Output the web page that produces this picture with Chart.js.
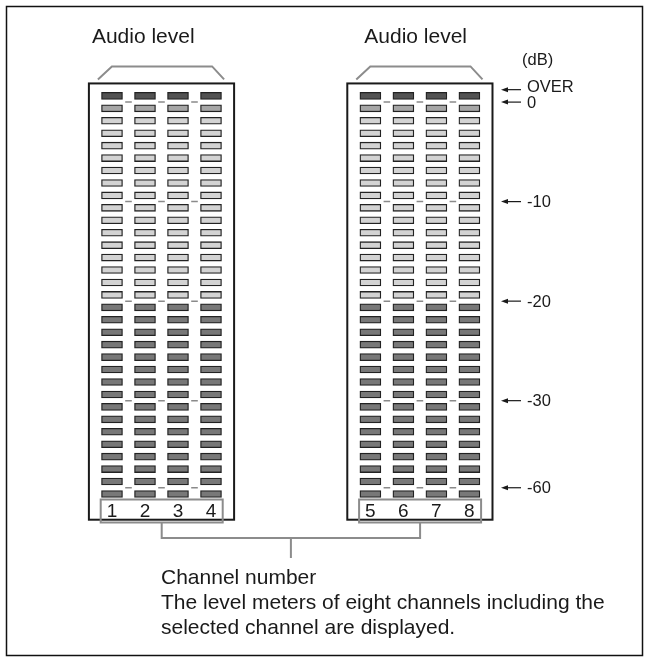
<!DOCTYPE html>
<html>
<head>
<meta charset="utf-8">
<script src="https://cdn.jsdelivr.net/npm/chart.js@4/dist/chart.umd.min.js"></script>
<style>
  html, body { margin: 0; padding: 0; background: #fff; }
  canvas { display: block; }
</style>
</head>
<body>
<canvas id="meters" width="649" height="662"></canvas>
<script>
// channels and how many segments each one shows (all lit in this picture)
var channelLabels = ['1', '2', '3', '4', '5', '6', '7', '8'];
var channelLitSegments = [33, 33, 33, 33, 33, 33, 33, 33];
// segments per zone, bottom to top: -60..-20, -20..0, 0 dB, OVER
var zoneNames = ['low', 'mid', 'zero', 'over'];
var zoneSegmentCounts = [16, 15, 1, 1];
// dB marks and the segment edge where each one sits
var dbMarkLabels = ['-60', '-30', '-20', '-10', '0', 'OVER'];
var dbMarkEdges = [0.5, 7.5, 15.5, 23.5, 31.5, 32.5];
var meterTitles = ['Audio level', 'Audio level'];
var unitLabel = '(dB)';
var captionLines = [
    'Channel number',
    'The level meters of eight channels including the',
    'selected channel are displayed.'
];

// styles
var zoneColors = { low: '#787878', mid: '#d3d3d3', zero: '#a6a6a6', over: '#525252' };
var METER_GAP = 3.83;   // empty column units between the two meters
var FONT = '"Liberation Sans", Arial, Helvetica, sans-serif';

function colX(i) {
    return i + (i >= 4 ? METER_GAP : 0);
}

function zoneOf(seg) {
    var acc = 0;
    for (var z = 0; z < zoneSegmentCounts.length; z++) {
        acc += zoneSegmentCounts[z];
        if (seg < acc) return z;
    }
    return zoneSegmentCounts.length - 1;
}

// one bar dataset per zone, floating bars {x, y:[lo, hi]}
var datasets = zoneNames.map(function (name, z) {
    var pts = [];
    channelLabels.forEach(function (lab, i) {
        for (var s = 0; s < channelLitSegments[i]; s++) {
            if (zoneOf(s) === z) pts.push({ x: colX(i), y: [s - 0.28, s + 0.28] });
        }
    });
    return {
        type: 'bar',
        label: name,
        data: pts,
        backgroundColor: zoneColors[name],
        borderColor: '#222222',
        borderWidth: 1.3,
        borderSkipped: false,
        grouped: false,
        barThickness: 21
    };
});

// small dashes between columns at each dB mark (not OVER)
var dashPts = [];
[0, 4].forEach(function (first) {
    for (var j = 0; j < 3; j++) {
        dbMarkEdges.forEach(function (e, k) {
            if (dbMarkLabels[k] !== 'OVER') dashPts.push({ x: colX(first + j) + 0.5, y: e });
        });
    }
});
datasets.push({
    type: 'scatter',
    label: 'marks',
    data: dashPts,
    pointStyle: 'line',
    pointRadius: 3.3,
    pointBorderColor: '#8a8a8a',
    pointBorderWidth: 1.5,
    showLine: false
});

// frame, boxes, brackets and all the texts
var decor = {
    id: 'decor',
    afterDraw: function (chart) {
        var ctx = chart.ctx;
        var X = function (v) { return chart.scales.x.getPixelForValue(v); };
        var Y = function (v) { return chart.scales.y.getPixelForValue(v); };
        ctx.save();

        // outer frame
        ctx.strokeStyle = '#111';
        ctx.lineWidth = 1.5;
        ctx.strokeRect(6.5, 6.5, 636, 649);

        var chanCenters = [];
        [0, 1].forEach(function (m) {
            var c0 = colX(4 * m), c3 = colX(4 * m + 3);
            var bx0 = X(c0 - 0.7), bx1 = X(c3 + 0.7);
            var by0 = Y(33), by1 = Y(-2.07);

            // meter box
            ctx.strokeStyle = '#1a1a1a';
            ctx.lineWidth = 2;
            ctx.strokeRect(bx0, by0, bx1 - bx0, by1 - by0);

            // bracket over the meter
            ctx.strokeStyle = '#8c8c8c';
            ctx.lineWidth = 2;
            ctx.beginPath();
            ctx.moveTo(bx0 + 9, by0 - 4);
            ctx.lineTo(bx0 + 23, by0 - 17);
            ctx.lineTo(bx1 - 22, by0 - 17);
            ctx.lineTo(bx1 - 10, by0 - 4);
            ctx.stroke();

            // title
            ctx.fillStyle = '#1a1a1a';
            ctx.font = '21px ' + FONT;
            ctx.textAlign = 'left';
            ctx.textBaseline = 'alphabetic';
            ctx.fillText(meterTitles[m], m === 0 ? bx0 + 3 : bx0 + 17, 43);

            // channel number box + numbers
            var nx0 = X(c0) - 11.3, nx1 = X(c3) + 11.7;
            ctx.strokeStyle = '#8c8c8c';
            ctx.lineWidth = 2;
            ctx.strokeRect(nx0, 499.5, nx1 - nx0, 23);
            ctx.fillStyle = '#1a1a1a';
            ctx.font = '19px ' + FONT;
            ctx.textAlign = 'center';
            for (var j = 0; j < 4; j++) {
                ctx.fillText(channelLabels[4 * m + j], X(colX(4 * m + j)), 517);
            }
            chanCenters.push((nx0 + nx1) / 2);
        });

        // bracket joining the channel numbers
        var mid = (chanCenters[0] + chanCenters[1]) / 2;
        ctx.strokeStyle = '#8c8c8c';
        ctx.lineWidth = 2;
        ctx.beginPath();
        ctx.moveTo(chanCenters[0], 522.5);
        ctx.lineTo(chanCenters[0], 538);
        ctx.lineTo(chanCenters[1], 538);
        ctx.lineTo(chanCenters[1], 522.5);
        ctx.moveTo(mid, 538);
        ctx.lineTo(mid, 558);
        ctx.stroke();

        // dB scale with arrows
        ctx.fillStyle = '#1a1a1a';
        ctx.strokeStyle = '#1a1a1a';
        ctx.lineWidth = 1.2;
        ctx.font = '16.5px ' + FONT;
        ctx.textAlign = 'left';
        ctx.textBaseline = 'middle';
        ctx.fillText(unitLabel, 522, 60);
        dbMarkEdges.forEach(function (e, k) {
            var y = Y(e);
            ctx.beginPath();
            ctx.moveTo(505, y);
            ctx.lineTo(521, y);
            ctx.stroke();
            ctx.beginPath();
            ctx.moveTo(501, y);
            ctx.lineTo(508, y - 2.5);
            ctx.lineTo(508, y + 2.5);
            ctx.closePath();
            ctx.fill();
            ctx.fillText(dbMarkLabels[k], 527, y + (dbMarkLabels[k] === 'OVER' ? -2 : 1));
        });

        // caption
        ctx.font = '21px ' + FONT;
        ctx.textBaseline = 'alphabetic';
        captionLines.forEach(function (t, i) {
            ctx.fillText(t, 161, 584 + i * 25);
        });

        ctx.restore();
    }
};

new Chart(document.getElementById('meters'), {
    type: 'bar',
    data: { datasets: datasets },
    options: {
        responsive: false,
        animation: false,
        events: [],
        layout: { padding: { left: 79, right: 141, top: 71, bottom: 155.6 } },
        plugins: {
            legend: { display: false },
            tooltip: { enabled: false }
        },
        scales: {
            x: { type: 'linear', min: -1, max: 12, offset: false, display: false },
            y: { type: 'linear', min: -1, max: 34, offset: false, display: false }
        }
    },
    plugins: [decor]
});
</script>
</body>
</html>
